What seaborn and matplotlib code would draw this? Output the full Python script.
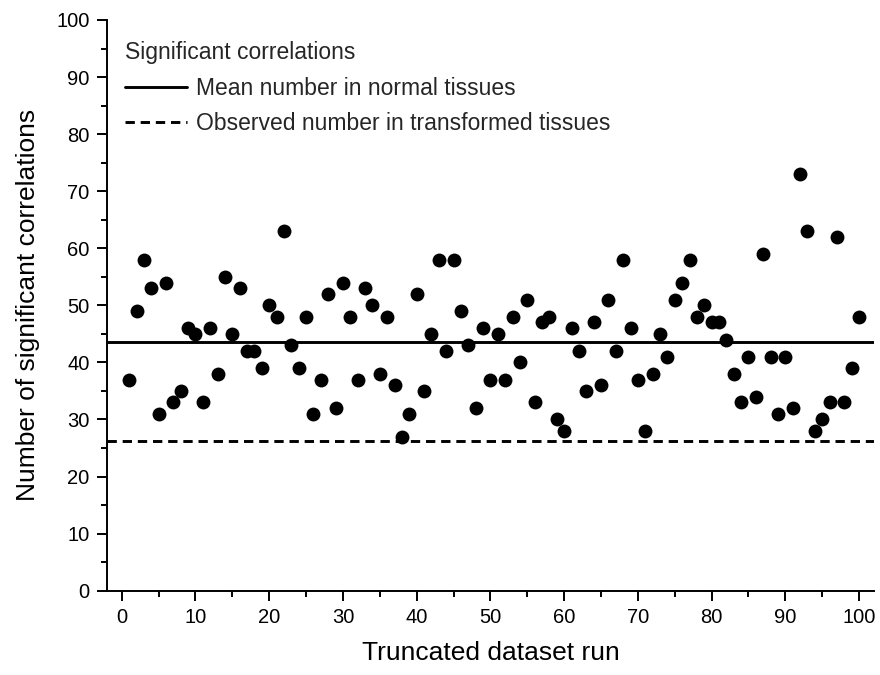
import matplotlib
matplotlib.use("Agg")
import matplotlib.pyplot as plt
import seaborn as sns
import pandas as pd
from matplotlib.ticker import MultipleLocator
from matplotlib.lines import Line2D

# ---- data ----
runs = list(range(1, 101))
significant = [
    37, 49, 58, 53, 31, 54, 33, 35, 46, 45,
    33, 46, 38, 55, 45, 53, 42, 42, 39, 50,
    48, 63, 43, 39, 48, 31, 37, 52, 32, 54,
    48, 37, 53, 50, 38, 48, 36, 27, 31, 52,
    35, 45, 58, 42, 58, 49, 43, 32, 46, 37,
    45, 37, 48, 40, 51, 33, 47, 48, 30, 28,
    46, 42, 35, 47, 36, 51, 42, 58, 46, 37,
    28, 38, 45, 41, 51, 54, 58, 48, 50, 47,
    47, 44, 38, 33, 41, 34, 59, 41, 31, 41,
    32, 73, 63, 28, 30, 33, 62, 33, 39, 48,
]
mean_normal = 43.6
observed_transformed = 26.2

legend_title = "Significant correlations"
legend_labels = ["Mean number in normal tissues", "Observed number in transformed tissues"]
x_label = "Truncated dataset run"
y_label = "Number of significant correlations"

df = pd.DataFrame({"run": runs, "count": significant})

sns.set_theme(style="ticks")
plt.rcParams["font.family"] = ["Liberation Sans", "DejaVu Sans"]

fig = plt.figure(figsize=(8.8, 6.75), dpi=100)
ax = fig.add_axes([0.1216, 0.1249, 0.8714, 0.8455])

sns.scatterplot(data=df, x="run", y="count", ax=ax, s=100, color="black",
                edgecolor="black", linewidth=0, legend=False, zorder=3)

dash = (0, (3.2, 2.0))
ax.axhline(mean_normal, color="black", lw=2.1, zorder=2)
ax.axhline(observed_transformed, color="black", lw=2.1, ls=dash, zorder=2)

ax.set_xlim(-2, 102)
ax.set_ylim(0, 100)
ax.xaxis.set_major_locator(MultipleLocator(10))
ax.xaxis.set_minor_locator(MultipleLocator(5))
ax.yaxis.set_major_locator(MultipleLocator(10))
ax.yaxis.set_minor_locator(MultipleLocator(5))
ax.tick_params(axis="both", which="major", direction="out", length=7.5, width=1.4,
               labelsize=14.5, color="black", labelcolor="black", pad=5)
ax.tick_params(axis="both", which="minor", direction="out", length=4.5, width=1.4,
               color="black")

for side in ["top", "right"]:
    ax.spines[side].set_visible(False)
for side in ["left", "bottom"]:
    ax.spines[side].set_linewidth(1.4)
    ax.spines[side].set_color("black")

ax.set_xlabel(x_label, fontsize=19, color="black", labelpad=10)
ax.set_ylabel(y_label, fontsize=19, color="black", labelpad=12)

handles = [
    Line2D([0], [0], color="black", lw=2.1),
    Line2D([0], [0], color="black", lw=2.1, ls=dash),
]
leg = ax.legend(handles, legend_labels, title=legend_title, loc="upper left",
                bbox_to_anchor=(0.0, 0.995), frameon=False, fontsize=16.5,
                title_fontsize=16.5, handlelength=2.7, handletextpad=0.4,
                labelspacing=0.55, borderaxespad=0.4)
leg._legend_box.align = "left"

fig.savefig("out.png", dpi=100)
